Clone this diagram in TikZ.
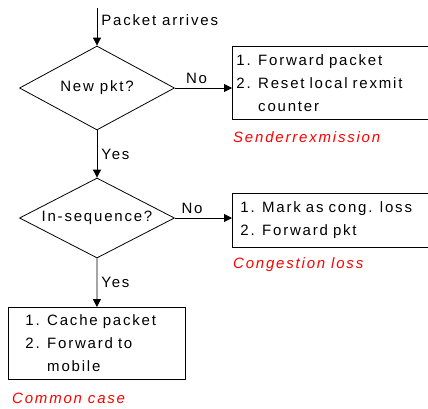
\documentclass[tikz,border=0pt]{standalone}
\usepackage{fontspec}
\setmainfont{Liberation Sans}[LetterSpace=12]
\usetikzlibrary{shapes.geometric, positioning, arrows.meta}
\newcommand{\boxfont}{\fontsize{15}{23}\selectfont}
\tikzset{
  decision/.style={diamond, aspect=2, draw, line width=0.8pt, inner sep=0pt, minimum width=155pt, minimum height=84pt, font=\boxfont},
  action/.style={rectangle, draw, line width=0.8pt, anchor=north west, align=left, font=\boxfont},
  note/.style={text=red, inner sep=0pt, font=\boxfont\itshape},
  flow/.style={line width=0.8pt, -{Triangle[length=8pt,width=8pt]}},
  lbl/.style={inner sep=4pt, font=\boxfont}
}

\begin{document}
\begin{tikzpicture}[x=1pt, y=-1pt]
        \useasboundingbox (0,0) rectangle (428,408);
        %
        \coordinate (start) at (97,8);
        \node[decision] (newpkt) at (97,88) {New pkt?};
        \node[decision, minimum height=80pt] (inseq) at (97,218) {In-sequence?};
        %
        \node[action, text width=188pt, inner xsep=4pt, minimum height=73pt] (fwd) at (232,46)
            {1. Forward packet\\2. Reset local rexmit\\\phantom{2. }counter};
        \node[action, text width=180pt, inner xsep=8pt, minimum height=54pt] (mark) at (232,193)
            {1. Mark as cong. loss\\2. Forward pkt};
        \node[action, text width=143pt, inner xsep=17pt, minimum height=72pt] (cache) at (8,307)
            {1. Cache packet\\2. Forward to\\\phantom{2. }mobile};
        %
        \node[note, below right=12pt and 1pt of fwd.south west] (sender) {Senderrexmission};
        \node[note, below right=10pt and 1pt of mark.south west] (cong) {Congestion loss};
        \node[note, below right=13pt and 4pt of cache.south west] (common) {Common case};
        %
        \draw[flow] (start) -- (newpkt.north) node[lbl, right, pos=0.32]{Packet arrives};
        \draw[flow] (newpkt.east) -- (newpkt.east -| fwd.west) node[lbl, above, pos=0.38]{No};
        \draw[flow] (newpkt.south) -- (inseq.north) node[lbl, right, midway]{Yes};
        \draw[flow] (inseq.east) -- (inseq.east -| mark.west) node[lbl, above, pos=0.3]{No};
        \draw[flow] (inseq.south) -- (cache.north) node[lbl, right, midway]{Yes};
\end{tikzpicture}
\end{document}
